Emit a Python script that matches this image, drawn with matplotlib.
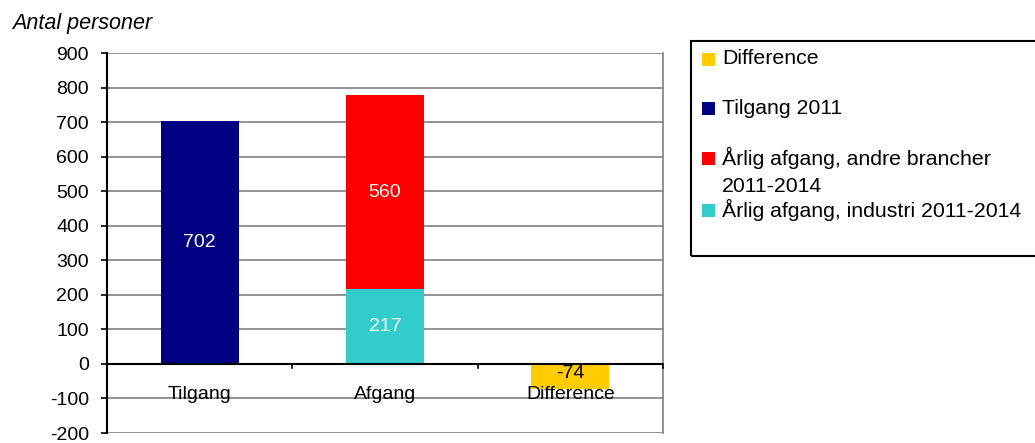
import matplotlib.pyplot as plt
from matplotlib.patches import Rectangle
import numpy as np

plt.rcParams['font.family'] = ['Liberation Sans', 'DejaVu Sans']
plt.rcParams['axes.unicode_minus'] = False

categories = ['Tilgang', 'Afgang', 'Difference']
tilgang = [702, 0, 0]
industri = [0, 217, 0]
andre = [0, 560, 0]
difference = [0, 0, -74]

c_diff = '#ffcc00'
c_til = '#000080'
c_andre = '#ff0000'
c_ind = '#33cccc'

fs = 14

fig = plt.figure(figsize=(10.35, 4.43), dpi=100)
ax = fig.add_axes([107/1035, 10/443, 556/1035, 380/443])

x = np.arange(len(categories))
w = 0.42
ax.bar(x[0], tilgang[0], w, color=c_til, zorder=3)
ax.bar(x[1], industri[1], w, color=c_ind, zorder=3)
ax.bar(x[1], andre[1], w, bottom=industri[1], color=c_andre, zorder=3)
ax.bar(x[2], difference[2], w, color=c_diff, zorder=3)

# value labels, centred in each segment
ax.text(x[0], tilgang[0] / 2, str(tilgang[0]), color='white', ha='center', va='center', fontsize=fs, zorder=4)
ax.text(x[1], industri[1] / 2, str(industri[1]), color='white', ha='center', va='center', fontsize=fs, zorder=4)
ax.text(x[1], industri[1] + andre[1] / 2, str(andre[1]), color='white', ha='center', va='center', fontsize=fs, zorder=4)
ax.text(x[2], -27, str(difference[2]), color='black', ha='center', va='center', fontsize=fs, zorder=4)

ax.set_xlim(-0.5, 2.5)
ax.set_ylim(-200, 900)
ax.set_yticks(range(-200, 901, 100))
ax.yaxis.grid(True, color='#808080', linewidth=1.2, zorder=0)
ax.tick_params(axis='y', labelsize=fs, length=4, width=1.2, direction='out', pad=9)
ax.set_xticks([])
for s in ['top', 'bottom']:
    ax.spines[s].set_visible(False)
ax.spines['right'].set_color('#808080')
ax.spines['right'].set_linewidth(1.2)
ax.spines['left'].set_color('black')
ax.spines['left'].set_linewidth(1.5)

# category axis at zero
ax.axhline(0, color='black', linewidth=1.5, zorder=5)
for b in [0.5, 1.5, 2.5]:
    ax.plot([b, b], [0, -12], color='black', linewidth=1.2, zorder=5, clip_on=False)
for i, c in enumerate(categories):
    ax.text(x[i], -88, c, ha='center', va='center', fontsize=fs, zorder=6)

fig.text(12/1035, 1 - 23/443, 'Antal personer', fontsize=15.5, style='italic', va='center')

# legend box
legend_labels = ['Difference', 'Tilgang 2011', 'Årlig afgang, andre brancher\n2011-2014', 'Årlig afgang, industri 2011-2014']
legend_colors = [c_diff, c_til, c_andre, c_ind]
legend_y = [59, 108, 158, 210]
fig.patches.append(Rectangle((691/1035, 1 - 256/443), 360/1035, 215/443, transform=fig.transFigure,
                             fill=False, edgecolor='black', linewidth=1.5))
for lab, col, yy in zip(legend_labels, legend_colors, legend_y):
    fig.patches.append(Rectangle((702/1035, 1 - (yy + 7)/443), 13/1035, 13/443, transform=fig.transFigure,
                                 facecolor=col, edgecolor='none'))
    for k, line in enumerate(lab.split('\n')):
        fig.text(722/1035, 1 - (yy + 28 * k)/443, line, fontsize=15.3, va='center')

fig.savefig('out.png', dpi=100)
